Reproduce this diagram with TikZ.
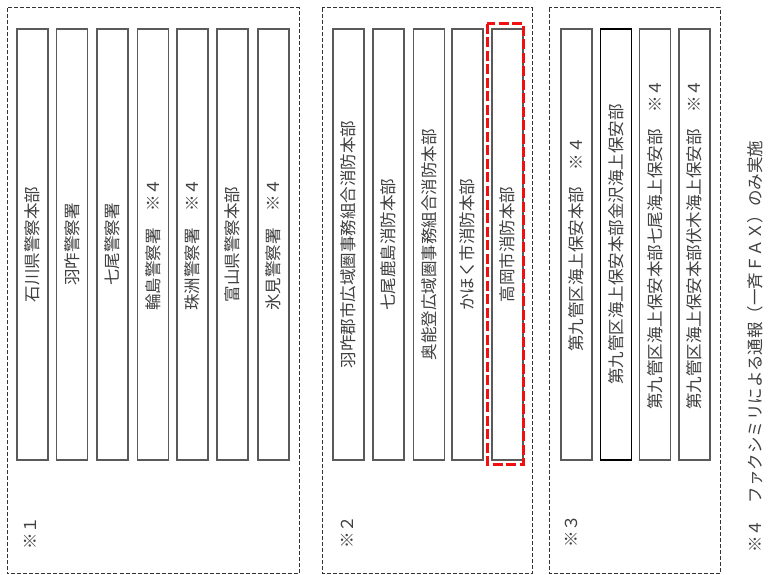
\documentclass[tikz,border=0pt]{standalone}
\usepackage{fontspec}
\newfontfamily\jpfont{Noto Sans CJK JP}
\usepackage{tikz}
\usetikzlibrary{positioning}
\definecolor{inkgray}{HTML}{404040}
\definecolor{framegray}{HTML}{5A5A5A}
\definecolor{markred}{HTML}{F01010}
\tikzset{
    every node/.style={font=\jpfont\fontsize{16.5}{18}\selectfont,text=inkgray},
    group/.style={draw=black!80,dash pattern=on 4pt off 2pt,line width=1pt},
    agency/.style={draw=framegray,line width=1.3pt,fill=white,rotate=90,
        minimum width=431pt,minimum height=31pt,inner sep=0pt},
    groupmark/.style={rotate=90,inner sep=0pt},
    highlight/.style={draw=markred,line width=3pt,dash pattern=on 10pt off 3.5pt}
}
\begin{document}
\begin{tikzpicture}[x=1pt,y=-1pt]
\useasboundingbox[fill=white] (0,0) rectangle (774,575);

\draw[group] (7,8) rectangle (299,573.5);
\draw[group] (322,8) rectangle (532,573.5);
\draw[group] (549,8) rectangle (720,573.5);

\node[agency] (g1a) at (32.5,244.5) {石川県警察本部};
\node[agency] (g1b) at (72,244.5) {羽咋警察署};
\node[agency] (g1c) at (112.5,244.5) {七尾警察署};
\node[agency] (g1d) at (153,244.5) {輪島警察署　※４};
\node[agency] (g1e) at (192.5,244.5) {珠洲警察署　※４};
\node[agency] (g1f) at (232.5,244.5) {富山県警察本部};
\node[agency] (g1g) at (273.5,244.5) {氷見警察署　※４};
\node[groupmark] (m1) at (30,533) {※１};

\node[agency] (g2a) at (348.5,244.5) {羽咋郡市広域圏事務組合消防本部};
\node[agency] (g2b) at (388.5,244.5) {七尾鹿島消防本部};
\node[agency] (g2c) at (429,244.5) {奥能登広域圏事務組合消防本部};
\node[agency] (g2d) at (467.5,244.5) {かほく市消防本部};
\node[agency] (g2e) at (507.5,244.5) {高岡市消防本部};
\draw[highlight] (487,24) rectangle (523.5,464);
\node[groupmark] (m2) at (347,532) {※２};

\node[agency] (g3a) at (576.5,244.5) {第九管区海上保安本部　※４};
\node[agency,draw=black] (g3b) at (616,244.5) {第九管区海上保安本部金沢海上保安部};
\node[agency] (g3c) at (655,244.5) {第九管区海上保安本部七尾海上保安部　※４};
\node[agency] (g3d) at (694.5,244.5) {第九管区海上保安本部伏木海上保安部　※４};
\node[groupmark] (m3) at (571,531) {※３};

\node[groupmark,anchor=west] (note) at (755,553) {※４　ファクシミリによる通報（一斉ＦＡＸ）のみ実施};
\end{tikzpicture}
\end{document}
